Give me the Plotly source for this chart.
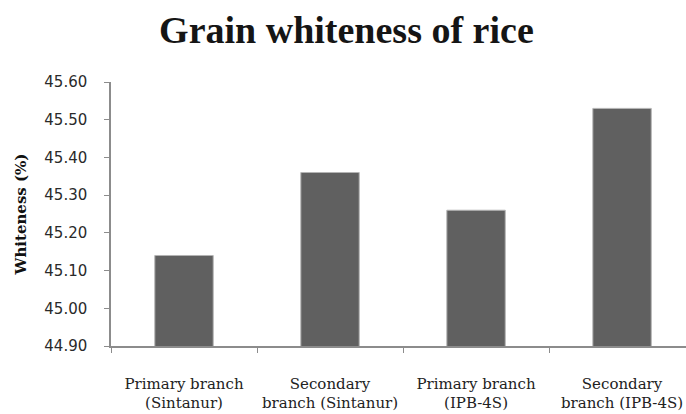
import plotly.graph_objects as go

categories = ["Primary branch<br>(Sintanur)", "Secondary<br>branch (Sintanur)",
              "Primary branch<br>(IPB-4S)", "Secondary<br>branch (IPB-4S)"]
whiteness = [45.14, 45.36, 45.26, 45.53]
y_ticks = [44.90, 45.00, 45.10, 45.20, 45.30, 45.40, 45.50, 45.60]

fig = go.Figure(go.Bar(
    x=categories, y=whiteness, width=0.4,
    marker=dict(color="#606060", line=dict(color="#b4b4b4", width=1)),
))

axis_col = "#8c8c8c"
fig.update_layout(
    width=686, height=414,
    margin=dict(l=111, r=0, t=82, b=68),
    paper_bgcolor="white", plot_bgcolor="white",
    showlegend=False,
    title=dict(text="<b>Grain whiteness of rice</b>", x=0.505, xanchor="center",
               xref="container", yref="container", y=1 - 30 / 414, yanchor="middle",
               font=dict(family="Liberation Serif", size=38, color="#151515"),),
    xaxis=dict(
        type="category", range=[-0.5, 3.438],
        showline=True, linecolor=axis_col, linewidth=1.5,
        ticks="outside", tickson="boundaries", ticklen=5, tickcolor=axis_col,
        tickfont=dict(family="DejaVu Serif", size=15, color="#222222"),
        ticklabelstandoff=23, showgrid=False,
    ),
    yaxis=dict(
        range=[44.9, 45.6], tickvals=y_ticks, tickformat=".2f",
        showline=True, linecolor=axis_col, linewidth=1.5,
        ticks="outside", ticklen=5, tickcolor=axis_col,
        tickfont=dict(family="DejaVu Sans", size=15, color="#2a2a2a"),
        ticklabelstandoff=14, showgrid=False,
        title=dict(text="<b>Whiteness (%)</b>", standoff=14,
                   font=dict(family="DejaVu Serif", size=15, color="#111111")),
    ),
)

fig.write_html("out.html")
